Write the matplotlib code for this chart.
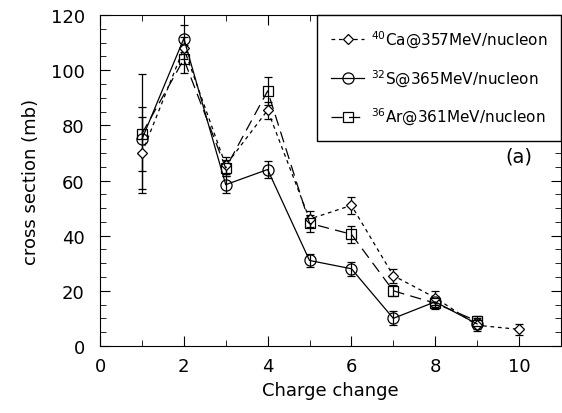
import numpy as np
import matplotlib.pyplot as plt
from matplotlib.ticker import MultipleLocator
from matplotlib.lines import Line2D

plt.rcParams['font.family'] = 'DejaVu Sans'

# data
ca_x = [1, 2, 3, 4, 5, 6, 7, 8, 9, 10]
ca_y = [70, 108, 65.5, 85.5, 46, 51, 25.5, 17.5, 7.5, 6]
ca_err = [13, 4, 3, 3, 3, 3, 2.5, 2.5, 2, 2]

s_x = [1, 2, 3, 4, 5, 6, 7, 8, 9]
s_y = [75, 111.5, 58.5, 64, 31, 28, 10, 16, 8]
s_err = [11.5, 5, 3, 3, 2.5, 2.5, 2.5, 2, 2]

ar_x = [1, 2, 3, 4, 5, 6, 7, 8, 9]
ar_y = [77, 104, 64.5, 92.5, 44.5, 40.5, 20, 15.5, 9]
ar_err = [21.5, 5, 3, 5, 3, 3, 2, 2, 2]

labels = [r'$^{40}$Ca@357MeV/nucleon', r'$^{32}$S@365MeV/nucleon', r'$^{36}$Ar@361MeV/nucleon']

fig = plt.figure(figsize=(5.62, 4.14), dpi=100)
ax = fig.add_axes([0.178, 0.162, 0.82, 0.799])

ca_style = dict(color='black', linestyle=(0, (3, 3)), lw=0.9, marker='D', markersize=5,
                mfc='white', mec='black', mew=0.9)
s_style = dict(color='black', linestyle='-', lw=0.9, marker='o', markersize=8,
               mfc='none', mec='black', mew=0.9)
ar_style = dict(color='black', linestyle=(0, (9, 5)), lw=0.9, marker='s', markersize=7,
                mfc='none', mec='black', mew=0.9)

ax.errorbar(ca_x, ca_y, yerr=ca_err, capsize=3, elinewidth=0.9, ecolor='black', **ca_style)
ax.errorbar(s_x, s_y, yerr=s_err, capsize=3, elinewidth=0.9, ecolor='black', **s_style)
ax.errorbar(ar_x, ar_y, yerr=ar_err, capsize=3, elinewidth=0.9, ecolor='black', **ar_style)

ax.set_xlim(0, 11)
ax.set_ylim(0, 120)
ax.xaxis.set_major_locator(MultipleLocator(2))
ax.xaxis.set_minor_locator(MultipleLocator(1))
ax.yaxis.set_major_locator(MultipleLocator(20))
ax.yaxis.set_minor_locator(MultipleLocator(5))
ax.tick_params(which='both', direction='in', top=True, right=True, labelsize=13)
ax.tick_params(which='major', length=7)
ax.tick_params(which='minor', length=4)
ax.tick_params(axis='x', pad=8)
ax.tick_params(axis='y', pad=11)

ax.set_xlabel('Charge change', fontsize=13)
ax.set_ylabel('cross section (mb)', fontsize=13, labelpad=8)

ax.text(10.0, 69, '(a)', fontsize=14, ha='center', va='center')

handles = [Line2D([], [], **ca_style), Line2D([], [], **s_style), Line2D([], [], **ar_style)]
leg = ax.legend(handles, labels, loc='upper right', bbox_to_anchor=(1.0, 1.0), fontsize=11,
                frameon=True, fancybox=False, edgecolor='black', framealpha=1,
                handlelength=2.2, handletextpad=0.4, labelspacing=1.15,
                borderpad=0.9, borderaxespad=0)
leg.get_frame().set_linewidth(1.0)

fig.savefig('out.png', dpi=100)
